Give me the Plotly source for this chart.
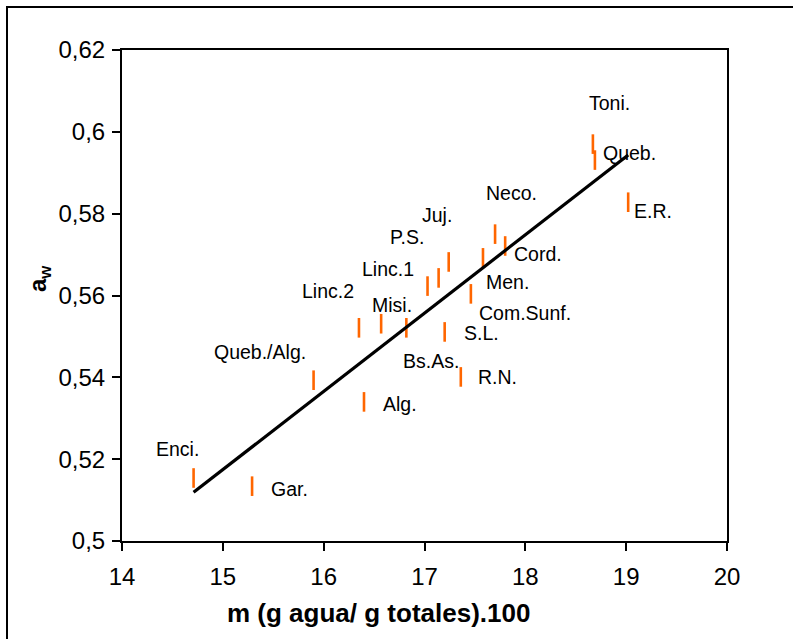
import numpy as np
import plotly.graph_objects as go

# Samples: moisture content m (g water / g total * 100) and water activity aw
muestras = ["Enci.", "Gar.", "Queb./Alg.", "Alg.", "Linc.2", "Misi.", "Bs.As.",
            "S.L.", "R.N.", "Linc.1", "P.S.", "Juj.", "Neco.", "Cord.", "Men.",
            "Com.Sunf.", "Toni.", "Queb.", "E.R."]
humedad = [14.71, 15.29, 15.90, 16.40, 16.35, 16.57, 16.82,
           17.20, 17.36, 17.03, 17.14, 17.24, 17.70, 17.80, 17.58,
           17.46, 18.67, 18.69, 19.02]
aw = [0.5154, 0.5134, 0.5393, 0.5340, 0.5521, 0.5531, 0.5521,
      0.5511, 0.5401, 0.5623, 0.5643, 0.5682, 0.5750, 0.5721, 0.5692,
      0.5604, 0.5970, 0.5931, 0.5828]

x_ticks = [14, 15, 16, 17, 18, 19, 20]
y_ticks = [0.50, 0.52, 0.54, 0.56, 0.58, 0.60, 0.62]
y_ticktext = ["0,5", "0,52", "0,54", "0,56", "0,58", "0,6", "0,62"]

x_title = "<b>m (g agua/ g totales).100</b>"
y_title = "<b>a<sub>w</sub></b>"

# Label placement relative to each marker (pixels: right, down)
label_offsets = [(-16, -29), (37, 3), (-54, -28), (36, 2), (-31, -37), (11, -19),
                 (25, 33), (37, 1), (37, 0), (-40, -17), (-32, -41), (-12, -47),
                 (16, -41), (33, 8), (25, 24), (54, 19), (17, -41), (35, -7),
                 (25, 9)]

# Least-squares trend line over the sampled range
pendiente, ordenada = np.polyfit(humedad, aw, 1)
x_fit = np.array([min(humedad), max(humedad)])
y_fit = pendiente * x_fit + ordenada

W, H = 793, 639
L, R, T, B = 122, 66, 50, 98
FONT = "Liberation Sans, Arial, sans-serif"
pw, ph = W - L - R, H - T - B


def px_to_paper(px, py):
    return (px - L) / pw, (H - B - py) / ph


fig = go.Figure()
fig.add_trace(go.Scatter(
    x=humedad, y=aw, mode="markers",
    marker=dict(symbol="line-ns", size=14, color="#FF6600",
                line=dict(color="#FF6600", width=2.6)),
    showlegend=False, hoverinfo="skip"))
fig.add_trace(go.Scatter(
    x=x_fit, y=y_fit, mode="lines",
    line=dict(color="black", width=3.2),
    showlegend=False, hoverinfo="skip"))

for name, xv, yv, (dx, dy) in zip(muestras, humedad, aw, label_offsets):
    fig.add_annotation(x=xv, y=yv, text=name, showarrow=False,
                       xshift=dx, yshift=-dy,
                       font=dict(family=FONT, size=19.5, color="black"))

# Axis titles placed as free text
tx, ty = px_to_paper(378, 613)
fig.add_annotation(xref="paper", yref="paper", x=tx, y=ty, text=x_title,
                   showarrow=False, xanchor="center", yanchor="middle",
                   font=dict(family=FONT, size=26, color="black"))
tx, ty = px_to_paper(39, 279)
fig.add_annotation(xref="paper", yref="paper", x=tx, y=ty, text=y_title,
                   showarrow=False, textangle=-90, xanchor="center",
                   yanchor="middle",
                   font=dict(family=FONT, size=24, color="black"))

# Outer chart frame (extends past the right and bottom page edges)
x0, y1 = px_to_paper(7, 7)
x1, y0 = px_to_paper(W + 10, H + 10)
fig.add_shape(type="rect", xref="paper", yref="paper",
              x0=x0, x1=x1, y0=y0, y1=y1,
              line=dict(color="black", width=2), layer="below")

axis_common = dict(showgrid=False, zeroline=False, showline=True,
                   linecolor="black", linewidth=2, mirror=True,
                   ticks="outside", ticklen=8, tickwidth=2, tickcolor="black",
                   tickfont=dict(family=FONT, size=24, color="black"))

fig.update_xaxes(range=[14, 20], tickvals=x_ticks, ticklabelstandoff=5,
                 **axis_common)
fig.update_yaxes(range=[0.5, 0.62], tickvals=y_ticks, ticktext=y_ticktext,
                 ticklabelstandoff=2, **axis_common)

fig.update_layout(width=W, height=H, margin=dict(l=L, r=R, t=T, b=B),
                  paper_bgcolor="white", plot_bgcolor="white")

fig.write_html("out.html")
